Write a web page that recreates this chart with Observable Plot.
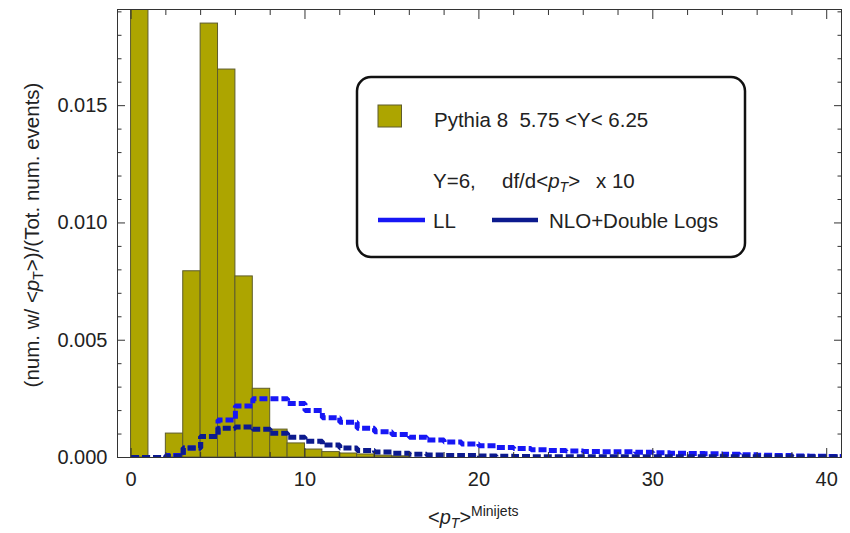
<!DOCTYPE html>
<html>
<head>
<meta charset="utf-8">
<script src="https://cdn.jsdelivr.net/npm/d3@7"></script>
<script src="https://cdn.jsdelivr.net/npm/@observablehq/plot@0.6"></script>
<style>
  body { margin: 0; background: #fff; }
  #chart { position: relative; width: 850px; height: 533px; }
  text { white-space: pre; }
</style>
</head>
<body>
<div id="chart"></div>
<script>
// Pythia 8 histogram: bins of width 1 starting at binStart
const binStart = [0, 1, 2, 3, 4, 5, 6, 7, 8, 9, 10, 11, 12, 13, 14, 15];
const pythiaFrac = [0.0215, 0, 0.00102, 0.00794, 0.0185, 0.01654, 0.00772, 0.00293, 0.00119, 0.0006, 0.00034, 0.00023, 0.00017, 0.00013, 0.00008, 0.00005];
const binWidth = 1;

// Curves df/d<pT> x 10 (step-after at integer <pT>)
const ptGrid = [0,1,2,3,4,5,6,7,8,9,10,11,12,13,14,15,16,17,18,19,20,21,22,23,24,25,26,27,28,29,30,31,32,33,34,35,36,37,38,39,40,41];
const llValues = [0, 0, 0.00008, 0.0004, 0.0009, 0.0016, 0.0022, 0.0025, 0.0025, 0.0023, 0.002, 0.0017, 0.0015, 0.00125, 0.0011, 0.00098, 0.00086, 0.00075, 0.00066, 0.00058, 0.0005, 0.00043, 0.00038, 0.00033, 0.0003, 0.00028, 0.00026, 0.00025, 0.00024, 0.00022, 0.0002, 0.00018, 0.00017, 0.00016, 0.00014, 0.00012, 0.0001, 0.00008, 0.00006, 0.00005, 0.00004, 0.00004];
const nloValues = [0, 0, 0.00005, 0.0004, 0.0009, 0.00125, 0.0013, 0.0012, 0.00103, 0.00086, 0.00069, 0.00053, 0.0004, 0.0003, 0.00023, 0.00018, 0.00014, 0.00011, 0.00009, 0.00008, 0.00006, 0.00005, 0.00004, 0.00003, 0.00003, 0.00003, 0.00003, 0.00003, 0.00003, 0.00003, 0.00003, 0.00003, 0.00003, 0.00003, 0.00003, 0.00003, 0.00003, 0.00003, 0.00003, 0.00003, 0.00003, 0.00003];

// Ticks
const xMajorTicks = [0, 10, 20, 30, 40];
const xMinorTicks = [2, 4, 6, 8, 12, 14, 16, 18, 22, 24, 26, 28, 32, 34, 36, 38];
const yMajorTicks = [0, 0.005, 0.010, 0.015];
const yMinorTicks = [0.001, 0.002, 0.003, 0.004, 0.006, 0.007, 0.008, 0.009, 0.011, 0.012, 0.013, 0.014, 0.016, 0.017, 0.018, 0.019];

const histColor = "#ada500";
const histEdge = "#5e5c2c";
const llColor = "#1717f5";
const nloColor = "#0c1a8e";
const frameColor = "#333";
const dash = "8,3";

const bins = binStart.map((b, i) => ({x1: b, x2: b + binWidth, y: pythiaFrac[i]}));
const ll = ptGrid.map((x, i) => ({x, y: llValues[i]}));
const nlo = ptGrid.map((x, i) => ({x, y: nloValues[i]}));

const noText = () => "";

const plot = Plot.plot({
  width: 850,
  height: 533,
  marginLeft: 117,
  marginRight: 9,
  marginTop: 9,
  marginBottom: 76,
  style: {fontFamily: "'Liberation Sans', Arial, sans-serif", fontSize: "20px", color: "#222", background: "#fff"},
  x: {domain: [-0.78, 40.85]},
  y: {domain: [0, 0.0191]},
  marks: [
    Plot.rectY(bins, {x1: "x1", x2: "x2", y: "y", fill: histColor, stroke: histEdge, strokeWidth: 1, clip: true}),
    Plot.line(ll, {x: "x", y: "y", curve: "step-after", stroke: llColor, strokeWidth: 5, strokeDasharray: dash, strokeLinecap: "butt", strokeLinejoin: "miter", clip: true}),
    Plot.line(nlo, {x: "x", y: "y", curve: "step-after", stroke: nloColor, strokeWidth: 5, strokeDasharray: dash, strokeLinecap: "butt", strokeLinejoin: "miter", clip: true}),
    Plot.axisX({anchor: "bottom", ticks: xMajorTicks, tickSize: -9, tickPadding: 23, tickFormat: d3.format("d"), label: null, stroke: frameColor}),
    Plot.axisX({anchor: "bottom", ticks: xMinorTicks, tickSize: -5, tickFormat: noText, label: null, stroke: frameColor}),
    Plot.axisX({anchor: "top", ticks: xMajorTicks, tickSize: -9, tickFormat: noText, label: null, stroke: frameColor}),
    Plot.axisX({anchor: "top", ticks: xMinorTicks, tickSize: -5, tickFormat: noText, label: null, stroke: frameColor}),
    Plot.axisY({anchor: "left", ticks: yMajorTicks, tickSize: -8, tickPadding: 18, tickFormat: d3.format(".3f"), label: null, stroke: frameColor}),
    Plot.axisY({anchor: "left", ticks: yMinorTicks, tickSize: -4.5, tickFormat: noText, label: null, stroke: frameColor}),
    Plot.axisY({anchor: "right", ticks: yMajorTicks, tickSize: -8, tickFormat: noText, label: null, stroke: frameColor}),
    Plot.axisY({anchor: "right", ticks: yMinorTicks, tickSize: -4.5, tickFormat: noText, label: null, stroke: frameColor}),
    Plot.frame({stroke: frameColor, strokeWidth: 1})
  ]
});

document.getElementById("chart").appendChild(plot);

const svg = d3.select(plot);
const font = "'Liberation Sans', Arial, sans-serif";

// Y axis label
const yl = svg.append("text")
  .attr("transform", "translate(39,235) rotate(-90)")
  .attr("text-anchor", "middle")
  .attr("font-family", font).attr("font-size", 20.5).attr("fill", "#222");
yl.append("tspan").text("(num. w/ <");
yl.append("tspan").attr("font-style", "italic").text("p");
yl.append("tspan").attr("font-size", 14).attr("dy", 4).text("T");
yl.append("tspan").attr("dy", -4).text(">)/(Tot. num. events)");

// X axis label
const xl = svg.append("text")
  .attr("x", 428).attr("y", 524).attr("text-anchor", "start")
  .attr("font-family", font).attr("font-size", 20).attr("fill", "#222");
xl.append("tspan").text("<");
xl.append("tspan").attr("font-style", "italic").text("p");
xl.append("tspan").attr("font-size", 14).attr("dy", 4).attr("font-style", "italic").text("T");
xl.append("tspan").attr("dy", -4).text(">");
xl.append("tspan").attr("font-size", 14).attr("dy", -8).text("Minijets");

// Legend
const lg = svg.append("g").attr("font-family", font).attr("font-size", 20.5).attr("fill", "#222").attr("text-anchor", "start");
lg.append("rect").attr("x", 357).attr("y", 77).attr("width", 388).attr("height", 180)
  .attr("rx", 14).attr("fill", "#fff").attr("stroke", "#111").attr("stroke-width", 2.5);
lg.append("rect").attr("x", 378).attr("y", 105).attr("width", 23.5).attr("height", 22)
  .attr("fill", histColor).attr("stroke", histEdge).attr("stroke-width", 1);
lg.append("text").attr("x", 434).attr("y", 126.5).text("Pythia 8  5.75 <Y< 6.25");
lg.append("text").attr("x", 433).attr("y", 188).text("Y=6,");
const t2 = lg.append("text").attr("x", 502).attr("y", 188);
t2.append("tspan").text("df/d<");
t2.append("tspan").attr("font-style", "italic").text("p");
t2.append("tspan").attr("font-size", 14).attr("dy", 4).attr("font-style", "italic").text("T");
t2.append("tspan").attr("dy", -4).text(">");
lg.append("text").attr("x", 596).attr("y", 188).text("x 10");
lg.append("line").attr("x1", 378).attr("x2", 425).attr("y1", 220).attr("y2", 220)
  .attr("stroke", llColor).attr("stroke-width", 4.5);
lg.append("text").attr("x", 433).attr("y", 228).text("LL");
lg.append("line").attr("x1", 492).attr("x2", 538).attr("y1", 220).attr("y2", 220)
  .attr("stroke", nloColor).attr("stroke-width", 4.5);
lg.append("text").attr("x", 549).attr("y", 228).text("NLO+Double Logs");
</script>
</body>
</html>
